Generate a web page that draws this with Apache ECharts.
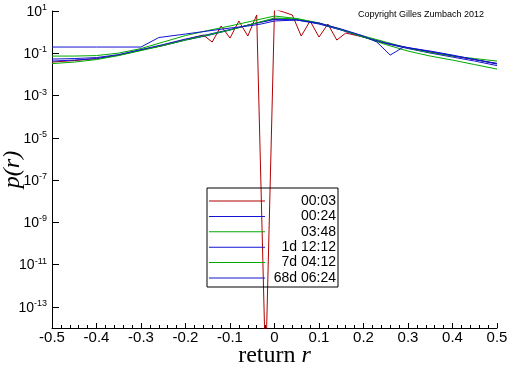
<!DOCTYPE html>
<html><head><meta charset="utf-8">
<script src="https://cdn.jsdelivr.net/npm/echarts@6/dist/echarts.min.js"></script>
<style>html,body{margin:0;padding:0;background:#fff}#c{width:512px;height:366px}</style>
</head><body><div id="c"></div>
<script>
const seriesNames = ['00:03', '00:24', '03:48', '1d 12:12', '7d 04:12', '68d 06:24'];
const seriesColors = ['#b00000', '#1414d2', '#00aa00', '#1414d2', '#00aa00', '#1414d2'];

const rGrid = [-0.5, -0.45, -0.4, -0.35, -0.3, -0.25, -0.2, -0.15, -0.1, -0.05, 0, 0.05, 0.1, 0.15, 0.2, 0.25, 0.3, 0.35, 0.4, 0.45, 0.5];

const r0003 = [-0.5, -0.45, -0.4, -0.35, -0.3, -0.25, -0.2, -0.16, -0.14, -0.12, -0.1, -0.08, -0.06, -0.04, -0.02, 0, 0.02, 0.04, 0.06, 0.08, 0.1, 0.12, 0.14, 0.16, 0.2, 0.25, 0.3, 0.35, 0.4, 0.45, 0.5];
const p0003 = [0.0383, 0.0451, 0.0561, 0.0822, 0.142, 0.245, 0.446, 0.729, 0.340, 1.95, 0.525, 3.36, 0.653, 6.46, 1e-16, 12.4, 8.97, 6.46, 0.653, 3.36, 0.586, 2.42, 0.422, 0.906, 0.586, 0.304, 0.176, 0.114, 0.0737, 0.0503, 0.0325];

const p0024 = [0.0427, 0.0476, 0.0561, 0.0822, 0.142, 0.232, 0.422, 0.690, 1.26, 2.42, 3.96, 3.75, 2.42, 1.26, 0.586, 0.288, 0.167, 0.102, 0.0661, 0.0427, 0.0261];
const p0348 = [0.0737, 0.0737, 0.0778, 0.102, 0.167, 0.340, 0.690, 1.19, 1.95, 3.36, 5.79, 4.41, 2.70, 1.33, 0.653, 0.340, 0.176, 0.108, 0.0737, 0.0561, 0.0427];
const p1d = [0.0531, 0.0561, 0.0626, 0.0868, 0.150, 0.258, 0.471, 0.770, 1.33, 2.42, 4.18, 3.96, 2.56, 1.26, 0.586, 0.304, 0.186, 0.120, 0.0778, 0.0503, 0.0332];
const p7d = [0.0325, 0.0383, 0.0503, 0.0778, 0.134, 0.232, 0.422, 0.729, 1.26, 2.42, 4.66, 4.18, 2.70, 1.33, 0.586, 0.258, 0.127, 0.0737, 0.0476, 0.0291, 0.0178];

const r68d = [-0.5, -0.4, -0.3, -0.26, -0.2, -0.15, -0.1, -0.06, -0.03, 0, 0.05, 0.1, 0.15, 0.2, 0.23, 0.26, 0.29, 0.35, 0.4, 0.45, 0.5];
const p68d = [0.197, 0.197, 0.197, 0.555, 0.813, 1.13, 1.56, 1.95, 2.42, 3.36, 3.75, 2.70, 1.40, 0.653, 0.340, 0.0822, 0.197, 0.127, 0.0822, 0.0503, 0.0308];

const yTickValues = [10, 0.1, 1e-3, 1e-5, 1e-7, 1e-9, 1e-11, 1e-13];
const copyrightText = 'Copyright Gilles Zumbach 2012';

function pairs(xs, ys) { return xs.map((x, i) => [x, ys[i]]); }
const seriesData = [
  pairs(r0003, p0003),
  pairs(rGrid, p0024),
  pairs(rGrid, p0348),
  pairs(rGrid, p1d),
  pairs(rGrid, p7d),
  pairs(r68d, p68d)
];

const chart = echarts.init(document.getElementById('c'), null, {renderer: 'canvas'});
const sans = 'Liberation Sans';
const serif = 'Liberation Serif';
chart.setOption({
  animation: false,
  backgroundColor: '#fff',
  title: {
    text: copyrightText, left: 358, top: 10, padding: 0,
    textStyle: {fontFamily: sans, fontSize: 9, fontWeight: 'normal', color: '#000'}
  },
  grid: {left: 52, right: 15, top: 11, bottom: 38, containLabel: false, outerBoundsMode: 'none'},
  legend: {
    orient: 'vertical', left: 207, top: 188,
    itemWidth: 56, itemHeight: 14, itemGap: 1.4,
    padding: [6, 2, 2, 2],
    borderColor: '#000', borderWidth: 1,
    selectedMode: false,
    icon: 'path://M0,0L56,0L56,1L0,1Z',
    symbolKeepAspect: true,
    data: seriesNames,
    formatter: n => '{a|' + n + '}',
    textStyle: {
      color: '#000', fontFamily: sans, fontSize: 14,
      rich: {a: {width: 66, align: 'right', fontFamily: sans, fontSize: 14, color: '#000'}}
    }
  },
  xAxis: {
    type: 'value', min: -0.5, max: 0.5, interval: 0.1,
    axisLine: {show: true, onZero: false, lineStyle: {color: '#000', width: 1}},
    axisTick: {show: true, inside: true, length: 5, lineStyle: {color: '#000'}},
    minorTick: {show: true, splitNumber: 5, length: 3, lineStyle: {color: '#000'}},
    splitLine: {show: false}, minorSplitLine: {show: false},
    axisLabel: {
      color: '#000', fontFamily: sans, fontSize: 15, margin: 2,
      formatter: v => Math.abs(v) < 1e-9 ? '0' : v.toFixed(1)
    },
    name: 'return {i|r}', nameLocation: 'middle', nameGap: 16, nameMoveOverlap: false,
    nameTextStyle: {
      fontFamily: serif, fontSize: 24, color: '#000',
      rich: {i: {fontFamily: serif, fontSize: 24, fontStyle: 'italic', color: '#000'}}
    }
  },
  yAxis: {
    type: 'log', logBase: 10, min: 1e-14, max: 10,
    axisLine: {show: true, onZero: false, lineStyle: {color: '#000', width: 1}},
    axisTick: {show: true, inside: true, length: 7, customValues: yTickValues, lineStyle: {color: '#000'}},
    splitLine: {show: false},
    axisLabel: {
      customValues: yTickValues, margin: 5, color: '#000',
      formatter: v => '{b|10}{s|' + Math.round(Math.log10(v)) + '}',
      rich: {
        b: {fontFamily: sans, fontSize: 14, color: '#000', verticalAlign: 'bottom'},
        s: {fontFamily: sans, fontSize: 9, color: '#000', verticalAlign: 'bottom', padding: [0, 0, 7, 0]}
      }
    },
    name: 'p(r)', nameLocation: 'middle', nameGap: 27, nameRotate: 90, nameMoveOverlap: false,
    nameTextStyle: {fontFamily: serif, fontSize: 24, fontStyle: 'italic', color: '#000'}
  },
  series: seriesNames.map((n, i) => ({
    name: n, type: 'line', symbol: 'none', showSymbol: false,
    data: seriesData[i],
    color: seriesColors[i],
    lineStyle: {color: seriesColors[i], width: 1},
    itemStyle: {color: seriesColors[i]},
    clip: true
  }))
});
</script>
</body></html>
